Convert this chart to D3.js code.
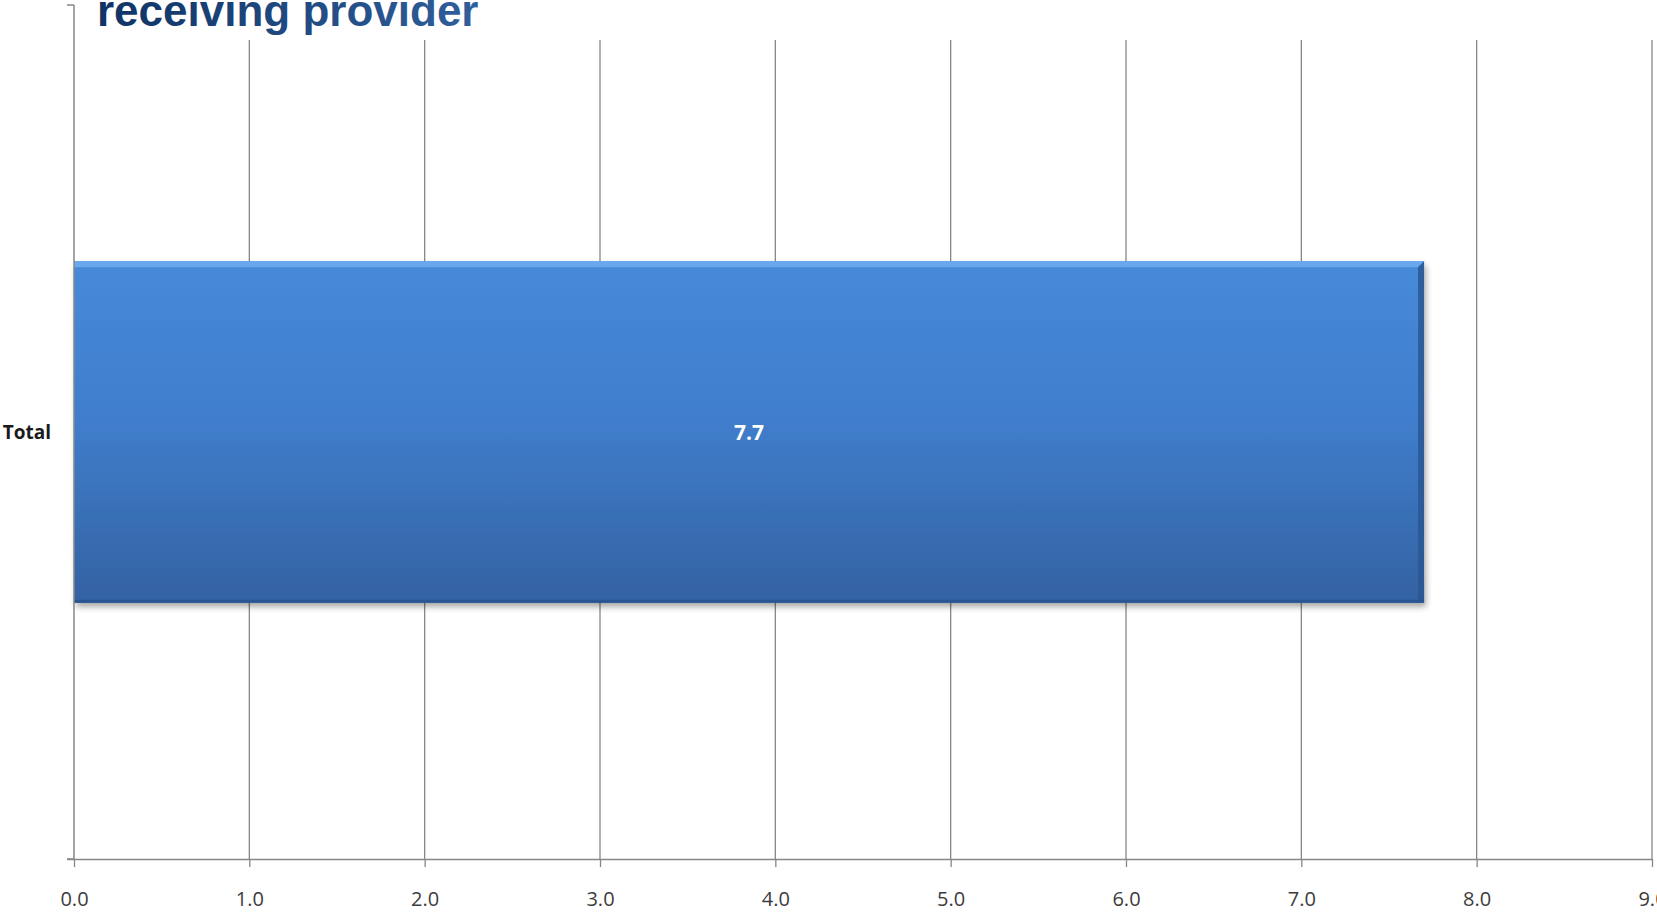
<!DOCTYPE html>
<html>
<head>
<meta charset="utf-8">
<script src="https://cdn.jsdelivr.net/npm/d3@7/dist/d3.min.js"></script>
<style>
  html, body { margin: 0; padding: 0; background: #ffffff; }
  svg { display: block; }
</style>
</head>
<body>
<script>
// ---- data ----
const categories = ["Total"];
const values = [7.7];
const xTicks = [0, 1, 2, 3, 4, 5, 6, 7, 8, 9];
const titleText = "receiving provider";

const W = 1657, H = 912;
const svg = d3.select("body").append("svg").attr("width", W).attr("height", H);
const defs = svg.append("defs");

// gradients
const barGrad = defs.append("linearGradient").attr("id", "barGrad")
  .attr("x1", 0).attr("y1", 0).attr("x2", 0).attr("y2", 1);
barGrad.append("stop").attr("offset", "0%").attr("stop-color", "#468ad9");
barGrad.append("stop").attr("offset", "45%").attr("stop-color", "#407ecd");
barGrad.append("stop").attr("offset", "100%").attr("stop-color", "#3362a2");

const titleGrad = defs.append("linearGradient").attr("id", "titleGrad")
  .attr("x1", 0).attr("y1", 0).attr("x2", 1).attr("y2", 0);
titleGrad.append("stop").attr("offset", "0%").attr("stop-color", "#0f3364");
titleGrad.append("stop").attr("offset", "100%").attr("stop-color", "#2f5f9c");

const shadow = defs.append("filter").attr("id", "shadow")
  .attr("x", "-5%").attr("y", "-5%").attr("width", "115%").attr("height", "120%");
shadow.append("feGaussianBlur").attr("in", "SourceAlpha").attr("stdDeviation", 3).attr("result", "b");
shadow.append("feOffset").attr("in", "b").attr("dx", 2).attr("dy", 4).attr("result", "o");
shadow.append("feComponentTransfer").attr("in", "o").attr("result", "s")
  .append("feFuncA").attr("type", "linear").attr("slope", 0.35);
const merge = shadow.append("feMerge");
merge.append("feMergeNode").attr("in", "s");
merge.append("feMergeNode").attr("in", "SourceGraphic");

// scales
const plotTop = 5, plotBottom = 859, plotLeft = 74, plotRight = 1652;
const x = d3.scaleLinear().domain([0, 9]).range([plotLeft, plotRight]);
const y = d3.scaleBand().domain(categories).range([plotTop, plotBottom])
  .paddingInner(3 / 7).paddingOuter(3 / 7);

const gridColor = "#878787";
const gridTop = 40;
const labelFont = "'Open Sans', Lato, sans-serif";

// gridlines
svg.append("g").selectAll("line").data(xTicks.filter(d => d > 0)).join("line")
  .attr("x1", d => x(d)).attr("x2", d => x(d))
  .attr("y1", gridTop).attr("y2", plotBottom)
  .attr("stroke", gridColor).attr("stroke-width", 1.3);

// bar
const barG = svg.append("g");
categories.forEach((c, i) => {
  const x0 = x(0), x1 = x(values[i]);
  const y0 = y(c), h = y.bandwidth();
  const g = barG.append("g");
  g.append("rect").attr("x", x0).attr("y", y0).attr("width", x1 - x0).attr("height", h)
    .attr("fill", "url(#barGrad)").attr("filter", "url(#shadow)");
  // top bevel
  g.append("polygon")
    .attr("points", `${x0},${y0} ${x1},${y0} ${x1 - 6},${y0 + 6} ${x0},${y0 + 6}`)
    .attr("fill", "#70adef").attr("opacity", 0.85);
  // right bevel
  g.append("polygon")
    .attr("points", `${x1},${y0} ${x1},${y0 + h} ${x1 - 6},${y0 + h - 3} ${x1 - 6},${y0 + 6}`)
    .attr("fill", "#2a5792").attr("opacity", 0.85);
  // bottom edge
  g.append("rect").attr("x", x0).attr("y", y0 + h - 3).attr("width", x1 - x0).attr("height", 3)
    .attr("fill", "#2a5490").attr("opacity", 0.9);
  // value label
  g.append("text").attr("x", (x0 + x1) / 2).attr("y", y0 + h / 2)
    .attr("text-anchor", "middle").attr("dominant-baseline", "central")
    .attr("fill", "#ffffff").attr("font-family", labelFont)
    .attr("font-weight", "bold").attr("font-size", 21)
    .text(d3.format(".1f")(values[i]));
});

// x axis
const xAxis = d3.axisBottom(x).tickValues(xTicks).tickFormat(d3.format(".1f"))
  .tickSize(8).tickPadding(25);
const gx = svg.append("g").attr("transform", `translate(0,${plotBottom})`).call(xAxis);
gx.select(".domain").attr("stroke", gridColor).attr("stroke-width", 1.5)
  .attr("d", `M${plotLeft - 7},0.5H${plotRight}`);
gx.selectAll(".tick line").attr("stroke", gridColor).attr("stroke-width", 1.3);
gx.selectAll(".tick text").attr("fill", "#3c3c3c")
  .attr("font-family", labelFont).attr("font-size", 20);

// y axis (band axis with ticks at band boundaries)
const gy = svg.append("g");
gy.append("line").attr("x1", plotLeft).attr("x2", plotLeft)
  .attr("y1", plotTop).attr("y2", plotBottom)
  .attr("stroke", gridColor).attr("stroke-width", 1.5);
gy.selectAll(".yt").data(y.range()).join("line").attr("class", "yt")
  .attr("x1", plotLeft - 7).attr("x2", plotLeft)
  .attr("y1", d => d).attr("y2", d => d)
  .attr("stroke", gridColor).attr("stroke-width", 1.5);
gy.selectAll(".yl").data(categories).join("text").attr("class", "yl")
  .attr("x", 51).attr("y", d => y(d) + y.bandwidth() / 2)
  .attr("text-anchor", "end").attr("dominant-baseline", "central")
  .attr("fill", "#1a1a1a").attr("font-family", labelFont)
  .attr("font-weight", "bold").attr("font-size", 19)
  .text(d => d);

// title (second line of a title, top is clipped)
svg.append("text").attr("x", 97).attr("y", 26)
  .attr("font-family", "'Liberation Sans', Arial, sans-serif")
  .attr("font-weight", "bold").attr("font-size", 44)
  .attr("fill", "url(#titleGrad)")
  .text(titleText);
</script>
</body>
</html>
